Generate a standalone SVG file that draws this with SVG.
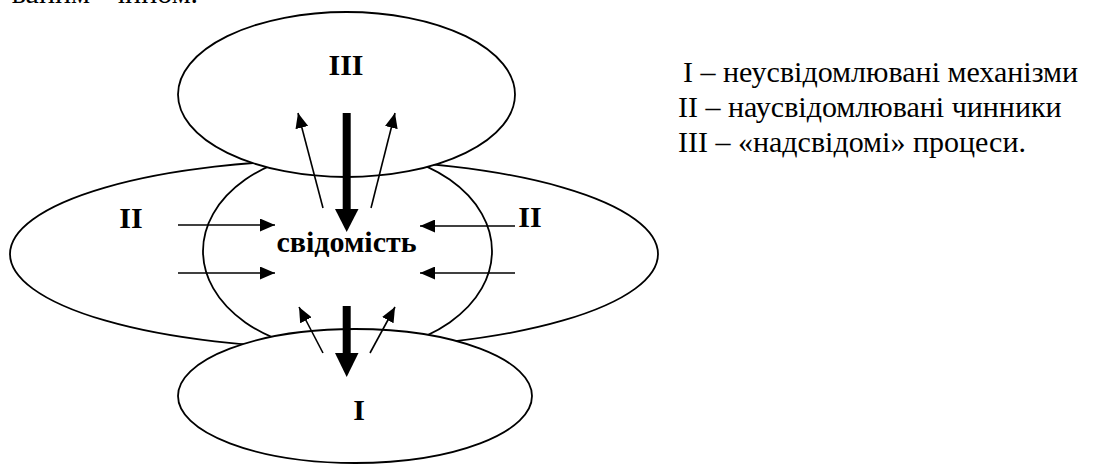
<svg xmlns="http://www.w3.org/2000/svg" width="1108" height="466" viewBox="0 0 1108 466">
  <style>
    .shape { fill: #ffffff; stroke: #000000; stroke-width: 1.8; }
    .lbl { font-family: "Liberation Serif", "DejaVu Serif", serif; font-weight: bold; font-size: 30px; fill: #000; text-anchor: middle; }
    .leg { font-family: "Liberation Serif", "DejaVu Serif", serif; font-size: 30px; fill: #000; }
    .thin { stroke: #000; stroke-width: 1.6; fill: none; }
    .thick { stroke: #000; stroke-width: 8; fill: none; }
  </style>
  <defs>
    <marker id="ah" markerUnits="userSpaceOnUse" markerWidth="15" markerHeight="13" refX="15" refY="6.5" orient="auto">
      <path d="M0,0 L15,6.5 L0,13 z" fill="#000"/>
    </marker>
  </defs>
  <rect width="1108" height="466" fill="#ffffff"/>
  <text class="leg" x="90" y="2.5" text-anchor="end">ваним</text>
  <text class="leg" x="110" y="2.5">чином.</text>

  <g id="node-II">
    <ellipse class="shape" cx="334" cy="254" rx="324" ry="94"/>
  </g>
  <g id="node-consciousness">
    <ellipse class="shape" cx="347.5" cy="251" rx="144.5" ry="101"/>
  </g>
  <g id="node-III">
    <ellipse class="shape" cx="346.5" cy="94.5" rx="168.5" ry="82.5"/>
  </g>
  <g id="node-I">
    <ellipse class="shape" cx="355" cy="396" rx="177" ry="67"/>
  </g>

  <g id="connectors">
    <line class="thick" x1="346.7" y1="113" x2="346.7" y2="210"/>
    <polygon points="335,209 358.5,209 346.7,232" fill="#000"/>
    <line class="thin" x1="323" y1="208" x2="298" y2="113" marker-end="url(#ah)"/>
    <line class="thin" x1="371" y1="208" x2="395" y2="113" marker-end="url(#ah)"/>

    <line class="thin" x1="178" y1="225" x2="275" y2="225" marker-end="url(#ah)"/>
    <line class="thin" x1="178" y1="273" x2="275" y2="273" marker-end="url(#ah)"/>
    <line class="thin" x1="515" y1="226" x2="420" y2="226" marker-end="url(#ah)"/>
    <line class="thin" x1="515" y1="273" x2="420" y2="273" marker-end="url(#ah)"/>

    <line class="thick" x1="346.7" y1="306" x2="346.7" y2="354"/>
    <polygon points="335,353 358.5,353 346.7,377" fill="#000"/>
    <line class="thin" x1="323" y1="353" x2="299" y2="307" marker-end="url(#ah)"/>
    <line class="thin" x1="370" y1="353" x2="395" y2="307" marker-end="url(#ah)"/>
  </g>

  <g id="labels">
    <text class="lbl" x="346" y="75">III</text>
    <text class="lbl" x="131" y="228">II</text>
    <text class="lbl" x="530" y="227">II</text>
    <text class="lbl" x="346.5" y="252">свідомість</text>
    <text class="lbl" x="359" y="420">I</text>
  </g>

  <g id="legend">
    <text class="leg" x="683" y="82">I – неусвідомлювані механізми</text>
    <text class="leg" x="678" y="117">II – наусвідомлювані чинники</text>
    <text class="leg" x="678" y="152">III – «надсвідомі» процеси.</text>
  </g>
</svg>
